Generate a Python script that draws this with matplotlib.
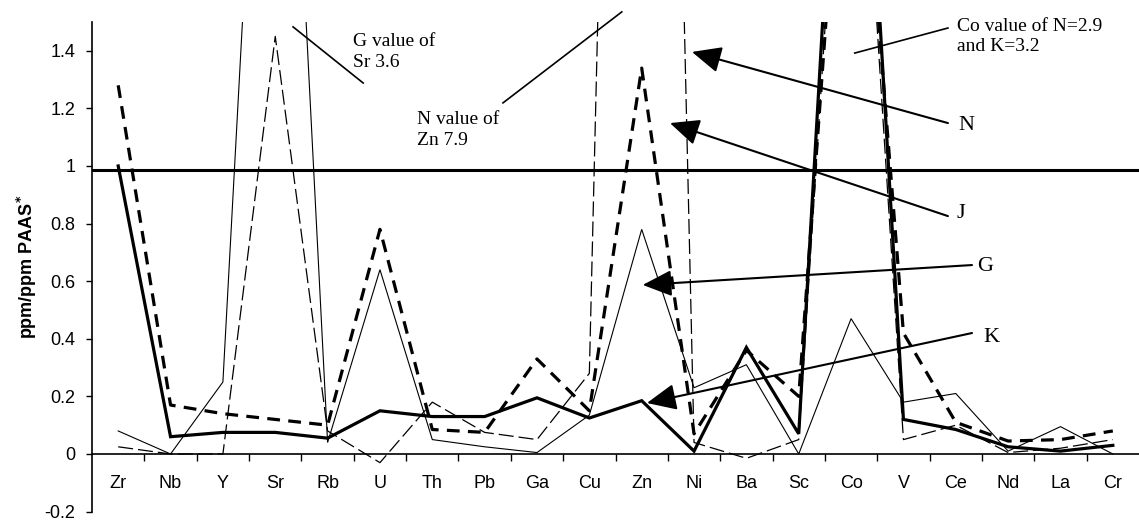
import matplotlib
matplotlib.use("Agg")
import matplotlib.pyplot as plt
from matplotlib.ticker import FixedLocator, NullFormatter

plt.rcParams['font.family'] = ['Liberation Sans', 'DejaVu Sans']

categories = ["Zr", "Nb", "Y", "Sr", "Rb", "U", "Th", "Pb", "Ga", "Cu",
              "Zn", "Ni", "Ba", "Sc", "Co", "V", "Ce", "Nd", "La", "Cr"]

# sample series (ppm/ppm PAAS)
K_vals = [1.0, 0.06, 0.075, 0.075, 0.055, 0.15, 0.13, 0.13, 0.195, 0.125,
          0.185, 0.01, 0.37, 0.07, 3.2, 0.12, 0.085, 0.025, 0.01, 0.03]
J_vals = [1.28, 0.17, 0.14, 0.12, 0.10, 0.78, 0.085, 0.075, 0.33, 0.15,
          1.34, 0.07, 0.36, 0.20, 2.7, 0.42, 0.11, 0.045, 0.05, 0.08]
G_vals = [0.08, 0.0, 0.25, 3.6, 0.04, 0.64, 0.05, 0.025, 0.005, 0.135,
          0.78, 0.23, 0.31, 0.0, 0.47, 0.18, 0.21, 0.01, 0.095, 0.0]
N_vals = [0.025, 0.0, 0.0, 1.45, 0.08, -0.03, 0.18, 0.075, 0.05, 0.28,
          7.9, 0.04, -0.015, 0.05, 2.9, 0.05, 0.10, 0.005, 0.02, 0.05]
ref_level = 0.985

y_ticks = [-0.2, 0, 0.2, 0.4, 0.6, 0.8, 1, 1.2, 1.4]
y_tick_labels = ["-0.2", "0", "0.2", "0.4", "0.6", "0.8", "1", "1.2", "1.4"]

fig = plt.figure(figsize=(11.39, 5.23), dpi=100)
ax = fig.add_axes([0.0808, 0.0218, 0.9192, 0.9362])

x = list(range(len(categories)))
ax.plot(x, G_vals, color='black', lw=0.8, solid_joinstyle='miter')
ax.plot(x, N_vals, color='black', lw=0.9, linestyle=(0, (12, 4)))
ax.plot(x, J_vals, color='black', lw=2.3, linestyle=(0, (4, 2.6)), dash_capstyle='butt')
ax.plot(x, K_vals, color='black', lw=2.3, solid_joinstyle='miter')
ax.axhline(ref_level, color='black', lw=2.2)

ax.set_xlim(-0.5, len(categories) - 0.5)
ax.set_ylim(-0.2, 1.5)

for s in ['top', 'right']:
    ax.spines[s].set_visible(False)
ax.spines['bottom'].set_position(('data', 0))
ax.spines['bottom'].set_linewidth(1.2)
ax.spines['left'].set_linewidth(1.2)
ax.spines['left'].set_bounds(-0.2, 1.5)

ax.set_xticks(x)
ax.set_xticklabels(categories)
ax.xaxis.set_minor_locator(FixedLocator([i + 0.5 for i in range(len(categories) - 1)]))
ax.xaxis.set_minor_formatter(NullFormatter())
ax.tick_params(axis='x', which='major', length=0, pad=15, labelsize=13)
ax.tick_params(axis='x', which='minor', length=5, width=1.0, direction='out')

ax.set_yticks(y_ticks)
ax.set_yticklabels(y_tick_labels)
ax.tick_params(axis='y', which='major', length=4, width=1.0, direction='out', pad=8, labelsize=13)

ax.set_ylabel("ppm/ppm PAAS$^{\\mathbf{*}}$", fontsize=13, fontweight='bold', labelpad=4)

serif = ['Liberation Serif', 'DejaVu Serif']

# annotation texts with pointer lines
ax.plot([3.34, 4.68], [1.483, 1.288], color='black', lw=1.2, clip_on=False)
ax.text(4.49, 1.46, "G value of\nSr 3.6", family=serif, fontsize=14,
        ha='left', va='top', linespacing=1.25)

ax.plot([7.35, 9.62], [1.219, 1.535], color='black', lw=1.2, clip_on=False)
ax.text(5.70, 1.19, "N value of\nZn 7.9", family=serif, fontsize=14,
        ha='left', va='top', linespacing=1.25)

ax.plot([14.07, 15.85], [1.392, 1.479], color='black', lw=1.2, clip_on=False)
ax.text(16.02, 1.515, "Co value of N=2.9\nand K=3.2", family=serif, fontsize=14,
        ha='left', va='top', linespacing=1.25)

arrow_kw = dict(arrowstyle='-|>,head_length=1.0,head_width=0.45', color='black',
                lw=1.5, shrinkA=0, shrinkB=0, mutation_scale=18)
labels = [("N", (15.85, 1.149), (10.96, 1.396), (16.05, 1.142)),
          ("J", (15.85, 0.826), (10.54, 1.149), (16.02, 0.835)),
          ("G", (16.31, 0.656), (10.02, 0.587), (16.40, 0.652)),
          ("K", (16.31, 0.420), (10.10, 0.177), (16.52, 0.405))]
for name, tail, head, tpos in labels:
    ax.annotate("", xy=head, xytext=tail, arrowprops=arrow_kw)
    ax.text(tpos[0], tpos[1], name, family=serif, fontsize=16, ha='left', va='center')

fig.savefig("out.png", dpi=100)
